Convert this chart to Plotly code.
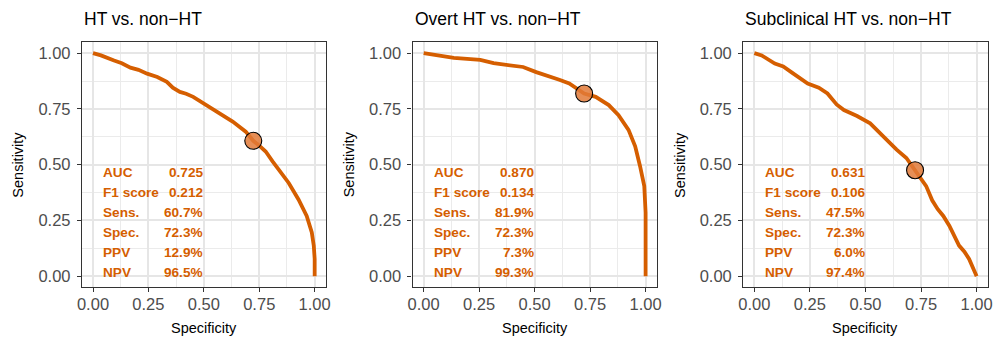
import plotly.graph_objects as go

# ---------------- data ----------------
titles = ["HT vs. non\u2212HT", "Overt HT vs. non\u2212HT", "Subclinical HT vs. non\u2212HT"]

ht_spec = [0.0, 0.036, 0.095, 0.130, 0.169, 0.205, 0.244, 0.290, 0.333, 0.360, 0.392, 0.420, 0.452,
           0.511, 0.571, 0.630, 0.689, 0.723, 0.750, 0.779, 0.810, 0.838, 0.883, 0.927, 0.964,
           0.987, 0.996, 1.0, 1.0]
ht_sens = [1.0, 0.990, 0.967, 0.955, 0.935, 0.925, 0.908, 0.893, 0.871, 0.845, 0.826, 0.818, 0.804,
           0.767, 0.730, 0.693, 0.648, 0.607, 0.585, 0.559, 0.515, 0.478, 0.418, 0.344, 0.270,
           0.196, 0.136, 0.077, 0.0]

overt_spec = [0.0, 0.077, 0.136, 0.255, 0.315, 0.448, 0.507, 0.611, 0.656, 0.723, 0.775, 0.834,
              0.878, 0.923, 0.953, 0.975, 0.994, 1.0, 1.0]
overt_sens = [1.0, 0.990, 0.979, 0.970, 0.955, 0.938, 0.915, 0.881, 0.864, 0.819, 0.804, 0.767,
              0.722, 0.656, 0.582, 0.493, 0.404, 0.285, 0.0]

sub_spec = [0.0, 0.033, 0.092, 0.130, 0.166, 0.200, 0.240, 0.290, 0.329, 0.370, 0.403, 0.462,
            0.521, 0.581, 0.640, 0.684, 0.723, 0.773, 0.800, 0.825, 0.850, 0.877, 0.921, 0.945,
            0.966, 1.0]
sub_sens = [1.0, 0.990, 0.953, 0.940, 0.915, 0.890, 0.864, 0.845, 0.819, 0.770, 0.745, 0.718,
            0.685, 0.626, 0.567, 0.530, 0.475, 0.404, 0.340, 0.300, 0.270, 0.226, 0.137, 0.110,
            0.077, 0.0]

cut_spec = [0.723, 0.723, 0.723]
cut_sens = [0.607, 0.819, 0.475]

metric_names = ["AUC", "F1 score", "Sens.", "Spec.", "PPV", "NPV"]
metric_values = [
    ["0.725", "0.212", "60.7%", "72.3%", "12.9%", "96.5%"],
    ["0.870", "0.134", "81.9%", "72.3%", "7.3%", "99.3%"],
    ["0.631", "0.106", "47.5%", "72.3%", "6.0%", "97.4%"],
]
tick_vals = [0.0, 0.25, 0.5, 0.75, 1.0]
tick_text = ["0.00", "0.25", "0.50", "0.75", "1.00"]

curves = [(ht_spec, ht_sens), (overt_spec, overt_sens), (sub_spec, sub_sens)]

# ---------------- styling ----------------
ORANGE = "#D55E00"
FONT = "Liberation Sans, Arial, Helvetica, sans-serif"
W, H = 998, 338
x_domains = [[77.7 / W, 324.0 / W], [411.7 / W, 658.3 / W], [745.7 / W, 992.7 / W]]
y_domain = [1 - 287.3 / H, 1 - 42.0 / H]
row_y = [0.463, 0.374, 0.285, 0.196, 0.107, 0.018]

fig = go.Figure()
annotations = []

for i, ((sx, sy), title) in enumerate(zip(curves, titles)):
    ax = "" if i == 0 else str(i + 1)
    xref, yref = "x" + ax, "y" + ax
    fig.add_trace(go.Scatter(x=sx, y=sy, mode="lines", xaxis=xref, yaxis=yref,
                             line=dict(color=ORANGE, width=3.8), showlegend=False,
                             hoverinfo="skip"))
    fig.add_trace(go.Scatter(x=[cut_spec[i]], y=[cut_sens[i]], mode="markers",
                             xaxis=xref, yaxis=yref, showlegend=False,
                             marker=dict(size=17, color="rgba(226,122,56,0.85)",
                                         line=dict(color="black", width=1.1))))
    axis_common = dict(
        range=[-0.05, 1.05], tickvals=tick_vals, ticktext=tick_text,
        showline=True, mirror=True, linecolor="#333333", linewidth=1.2,
        ticks="outside", ticklen=4, tickwidth=1, tickcolor="#333333",
        tickfont=dict(family=FONT, size=16.5, color="#4D4D4D"),
        showgrid=True, gridcolor="#E6E6E6", gridwidth=2, zeroline=False,
        minor=dict(tick0=0.125, dtick=0.25, showgrid=True, gridcolor="#EBEBEB",
                   gridwidth=1, ticks=""),
        fixedrange=True,
    )
    fig.update_layout(**{
        "xaxis" + ax: dict(domain=x_domains[i], anchor=yref, ticklabelstandoff=-2, **axis_common),
        "yaxis" + ax: dict(domain=y_domain, anchor=xref, ticklabelstandoff=3, **axis_common),
    })
    # panel title
    annotations.append(dict(text=title, x=x_domains[i][0], y=1 - 19 / H, xref="paper", yref="paper",
                            xanchor="left", yanchor="middle", showarrow=False,
                            font=dict(family=FONT, size=17.5, color="black")))
    # axis titles
    annotations.append(dict(text="Specificity", x=sum(x_domains[i]) / 2, y=1 - 328 / H,
                            xref="paper", yref="paper", xanchor="center", yanchor="middle",
                            showarrow=False, font=dict(family=FONT, size=14.5, color="black")))
    annotations.append(dict(text="Sensitivity", x=(x_domains[i][0] * W - 64.5) / W, y=1 - 164.6 / H,
                            xref="paper", yref="paper", xanchor="center", yanchor="middle",
                            textangle=-90, showarrow=False,
                            font=dict(family=FONT, size=14.5, color="black")))
    # metric table
    for name, val, yy in zip(metric_names, metric_values[i], row_y):
        annotations.append(dict(text="<b>%s</b>" % name, x=0.037, y=yy, xref=xref, yref=yref,
                                xanchor="left", yanchor="middle", showarrow=False,
                                font=dict(family=FONT, size=13.6, color=ORANGE)))
        annotations.append(dict(text="<b>%s</b>" % val, x=0.505, y=yy, xref=xref, yref=yref,
                                xanchor="right", yanchor="middle", showarrow=False,
                                font=dict(family=FONT, size=13.6, color=ORANGE)))

fig.update_layout(width=W, height=H, margin=dict(l=0, r=0, t=0, b=0),
                  paper_bgcolor="white", plot_bgcolor="white",
                  annotations=annotations, showlegend=False)

fig.write_html("out.html")
